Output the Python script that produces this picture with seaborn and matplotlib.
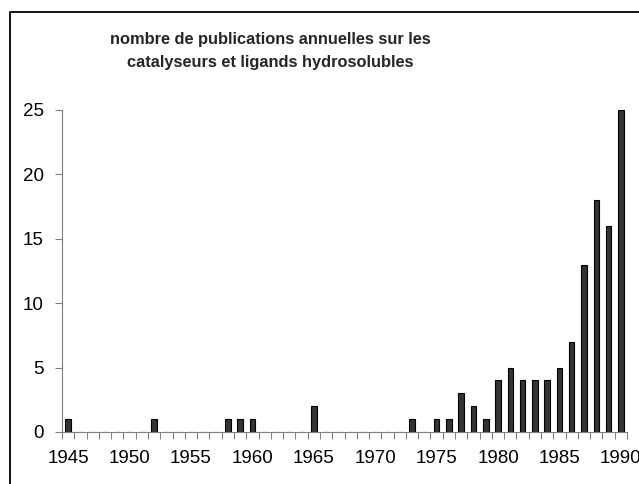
import numpy as np
import pandas as pd
import matplotlib.pyplot as plt
from matplotlib.patches import Rectangle
import seaborn as sns

# Data: one count per year, 1945-1990
years = list(range(1945, 1991))
counts = [1, 0, 0, 0, 0, 0, 0, 1, 0, 0,   # 1945-1954
          0, 0, 0, 1, 1, 1, 0, 0, 0, 0,   # 1955-1964
          2, 0, 0, 0, 0, 0, 0, 0, 1, 0,   # 1965-1974
          1, 1, 3, 2, 1, 4, 5, 4, 4, 4,   # 1975-1984
          5, 7, 13, 18, 16, 25]           # 1985-1990
title = "nombre de publications annuelles sur les\ncatalyseurs et ligands hydrosolubles"

sns.set_theme(style="white")
plt.rcParams['font.family'] = ['Liberation Sans', 'DejaVu Sans']

df = pd.DataFrame({"year": [str(y) for y in years], "count": counts})

fig = plt.figure(figsize=(6.39, 4.84), dpi=100)
ax = fig.add_axes([62/639, 52/484, 565/639, 322/484])

sns.barplot(data=df, x="year", y="count", order=df["year"], ax=ax,
            color="#333333", edgecolor="black", linewidth=0.8,
            width=0.45, saturation=1)

ax.set(xlabel="", ylabel="")
ax.set_xlim(-0.5, len(years) - 0.5)
ax.set_ylim(0, 25)

# labels every 5 years, ticks at category boundaries
ax.set_xticks(range(0, len(years), 5))
ax.set_xticklabels([str(y) for y in years[::5]])
ax.set_xticks(np.arange(-0.5, len(years), 1), minor=True)
ax.tick_params(axis="x", which="major", length=0, pad=13, labelsize=13.5, colors="black")
ax.tick_params(axis="x", which="minor", length=5, width=0.8, color="#808080", bottom=True)
ax.set_yticks(range(0, 26, 5))
ax.tick_params(axis="y", length=5, width=0.8, color="#808080", left=True, pad=8,
               labelsize=13.5, labelcolor="black")

for side in ["top", "right"]:
    ax.spines[side].set_visible(False)
for side in ["left", "bottom"]:
    ax.spines[side].set_color("#808080")
    ax.spines[side].set_linewidth(0.8)

fig.text(270/639, 1 - 51/484, title, ha="center", va="center",
         fontsize=11.8, fontweight="bold", linespacing=1.6)

# chart frame
fig.add_artist(Rectangle((10/639, -0.1), 1.0, 1 - 12/484 + 0.1,
                         transform=fig.transFigure, fill=False,
                         edgecolor="black", linewidth=1.3))

fig.savefig("out.png", dpi=100)
